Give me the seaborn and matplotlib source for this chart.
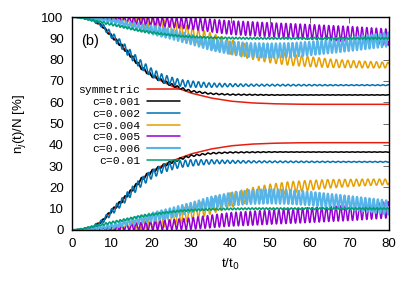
import numpy as np
import pandas as pd
import matplotlib
matplotlib.use("Agg")
import matplotlib.pyplot as plt
from matplotlib.lines import Line2D
import seaborn as sns

# --- dane (gałąź dolna, w %; gałąź górna = 100 - dolna) ---
t_knots = [0, 2.5, 5, 7.5, 10, 12.5, 15, 17.5, 20, 22.5, 25, 27.5, 30, 35, 40, 45, 50, 55, 60, 65, 70, 75, 80]

labels = ["symmetric", "c=0.001", "c=0.002", "c=0.004", "c=0.005", "c=0.006", "c=0.01"]
colors = ["#e51e10", "#000000", "#0072b2", "#e69f00", "#9400d3", "#56b4e9", "#009e73"]
widths = [1.1, 1.1, 1.1, 1.1, 1.1, 1.5, 1.1]

# srednia krzywej
mean_sym = [0, 0.3, 1.2, 4, 9, 13.5, 18.5, 24, 27.5, 30, 32.3, 34, 35.7, 38, 39.5, 40.3, 40.7, 40.9, 41, 41, 41, 41, 41]
mean_c001 = [0, 0.3, 1.2, 4, 9, 13.5, 18.5, 23.8, 27.3, 29.8, 31.8, 33.5, 34.8, 36, 36.4, 36.5, 36.6, 36.6, 36.6, 36.6, 36.6, 36.6, 36.6]
mean_c002 = [0, 0.3, 1.2, 3.8, 8.5, 13, 18, 22.5, 26, 28.5, 30, 31, 31.5, 32, 32, 32, 32, 32, 32, 32, 32, 32, 32]
mean_c004 = [0, 0.1, 0.3, 0.6, 1, 1.5, 2, 2.7, 3.5, 4.5, 5.5, 6.7, 8, 11, 14, 16.5, 18.5, 20, 21, 21.7, 22.1, 22.4, 22.6]
mean_c005 = [0, 0.1, 0.3, 0.5, 0.8, 1.1, 1.5, 1.8, 2, 2.3, 2.5, 2.8, 3, 4, 5, 5.5, 6, 6.5, 7, 7.5, 8, 8.7, 9.5]
mean_c006 = [0, 0.2, 0.5, 1.1, 1.8, 2.8, 4, 5, 6, 7, 8, 9.3, 10.5, 13, 14.5, 15.5, 15.8, 15.5, 14.8, 13.8, 12.8, 11.7, 10.5]
mean_c01 = [0, 0.5, 1.5, 2.5, 3.5, 4.5, 5.5, 6.5, 7.2, 7.9, 8.5, 9, 9.3, 9.7, 9.9, 10, 10, 10, 10, 10, 10, 10, 10]

# polowa amplitudy oscylacji
amp_sym = [0] * len(t_knots)
amp_c001 = [0, 0.1, 0.3, 0.5, 0.7, 0.8, 0.8, 0.8, 0.8, 0.7, 0.6, 0.5, 0.4, 0.3, 0.25, 0.2, 0.15, 0.1, 0.1, 0.1, 0.1, 0.1, 0.1]
amp_c002 = [0, 0.2, 0.5, 1, 1.5, 1.8, 2, 2, 2, 1.9, 1.8, 1.6, 1.5, 1, 0.7, 0.5, 0.4, 0.35, 0.3, 0.25, 0.2, 0.2, 0.2]
amp_c004 = [0, 0.1, 0.3, 0.6, 1, 1.5, 2, 2.5, 3, 3.3, 3.5, 3.5, 3.5, 3.5, 3.5, 3.2, 3, 2.7, 2.3, 2, 1.7, 1.5, 1.3]
amp_c005 = [0, 0.1, 0.3, 0.5, 0.8, 1.1, 1.5, 1.8, 2, 2.2, 2.3, 2.5, 2.7, 3, 3.2, 3.3, 3.3, 3.4, 3.5, 3.5, 3.6, 3.7, 3.8]
amp_c006 = [0, 0.2, 0.4, 0.7, 1, 1.2, 1.5, 1.8, 2, 2.2, 2.3, 2.3, 2.3, 2.6, 3, 3.3, 3.4, 3.3, 3.2, 3.2, 3.2, 3.2, 3.3]
amp_c01 = [0, 0.3, 0.5, 0.5, 0.5, 0.5, 0.5, 0.5, 0.45, 0.45, 0.4, 0.4, 0.4, 0.4, 0.4, 0.4, 0.4, 0.4, 0.4, 0.4, 0.4, 0.4, 0.4]

# okres oscylacji (t/t0)
periods = [1.0, 1.4, 1.33, 1.45, 1.2, 1.05, 0.9]

means = [mean_sym, mean_c001, mean_c002, mean_c004, mean_c005, mean_c006, mean_c01]
amps = [amp_sym, amp_c001, amp_c002, amp_c004, amp_c005, amp_c006, amp_c01]

sns.set_style("white")
plt.rcParams["font.family"] = ["Liberation Sans", "DejaVu Sans"]
plt.rcParams["text.color"] = "black"
plt.rcParams["axes.labelcolor"] = "black"
plt.rcParams["xtick.color"] = "black"
plt.rcParams["ytick.color"] = "black"

fig = plt.figure(figsize=(4.15, 2.91), dpi=100)
ax = fig.add_axes([72 / 415, 1 - 230 / 291, 317 / 415, 213 / 291])

t = np.linspace(0, 80, 6000)
rows = []
for lab, m, a, p in zip(labels, means, amps, periods):
    low = np.interp(t, t_knots, m) + np.interp(t, t_knots, a) * np.sin(2 * np.pi * t / p - np.pi / 2)
    rows.append(pd.DataFrame({"t": t, "n": low, "series": lab, "branch": "low"}))
    rows.append(pd.DataFrame({"t": t, "n": 100 - low, "series": lab, "branch": "high"}))
df = pd.concat(rows, ignore_index=True)

for lab, col, lw in zip(labels, colors, widths):
    sub = df[df["series"] == lab]
    sns.lineplot(data=sub, x="t", y="n", units="branch", estimator=None, color=col,
                 lw=lw, ax=ax, legend=False, sort=False)

ax.set_xlim(0, 80)
ax.set_ylim(0, 100)
ax.set_xticks(range(0, 81, 10))
ax.set_yticks(range(0, 101, 10))
ax.tick_params(direction="in", length=4, width=0.6, top=True, right=True,
               labelsize=9.5, pad=6, color="#555555")
for s in ax.spines.values():
    s.set_linewidth(1.0)
    s.set_color("black")
ax.set_xlabel("t/t$_0$", fontsize=9.5, labelpad=5)
ax.set_ylabel("n$_j$(t)/N [%]", fontsize=9.5, labelpad=10)
ax.text(0.03, 0.87, "(b)", transform=ax.transAxes, fontsize=10.5)

handles = [Line2D([], [], color=c, lw=lw) for c, lw in zip(colors, widths)]
leg = ax.legend(handles, labels, loc="upper left", bbox_to_anchor=(0.02, 0.68),
                frameon=False, markerfirst=False, handlelength=2.9, handletextpad=0.6,
                labelspacing=0.16, borderpad=0, borderaxespad=0,
                prop={"family": "Liberation Mono", "size": 8.2})
for txt in leg.get_texts():
    txt.set_ha("right")
leg._legend_box.align = "right"

fig.savefig("out.png", dpi=100)
